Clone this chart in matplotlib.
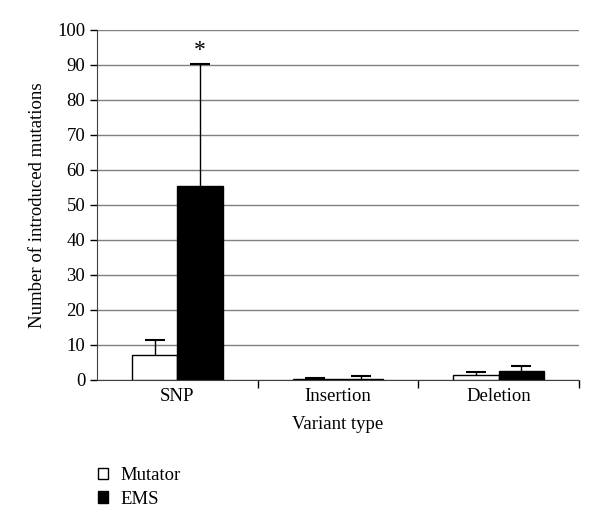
import matplotlib
matplotlib.use("Agg")
import matplotlib.pyplot as plt
import numpy as np
from matplotlib.patches import Rectangle

categories = ["SNP", "Insertion", "Deletion"]
mutator = [7.2, 0.3, 1.4]
mutator_err = [4.2, 0.3, 1.0]
ems = [55.5, 0.4, 2.6]
ems_err = [34.7, 0.6, 1.5]
yticks = list(range(0, 101, 10))

plt.rcParams['font.family'] = ['Liberation Serif', 'DejaVu Serif']

fig = plt.figure(figsize=(6, 5.29), dpi=100)
ax = fig.add_axes([0.1617, 0.2817, 0.8033, 0.6616])

x = np.arange(len(categories))
w = 0.283
ax.bar(x - w/2, mutator, w, color='white', edgecolor='black', linewidth=1.0, zorder=3)
ax.bar(x + w/2, ems, w, color='black', edgecolor='black', linewidth=1.0, zorder=3)
for xs, vals, errs in [(x - w/2, mutator, mutator_err), (x + w/2, ems, ems_err)]:
    _, caps, _ = ax.errorbar(xs, vals, yerr=[np.zeros(3), errs], fmt='none',
                             ecolor='black', elinewidth=1.0, capsize=7, capthick=1.5, zorder=4)
    caps[0].set_visible(False)
ax.text(x[0] + w/2, ems[0] + ems_err[0] + 1.0, "*", ha='center', va='bottom', fontsize=17)

ax.set_xlim(-0.5, 2.5)
ax.set_ylim(0, 100)
ax.set_yticks(yticks)
ax.yaxis.grid(True, color='#808080', linewidth=1.0, zorder=0)
ax.set_axisbelow(True)
ax.set_xticks(x)
ax.set_xticklabels(categories, fontsize=13.5)
ax.set_xticks([0.5, 1.5, 2.5], minor=True)
ax.tick_params(axis='x', which='major', length=0, pad=6)
ax.tick_params(axis='x', which='minor', length=6, width=1.0, direction='out')
ax.tick_params(axis='y', labelsize=13.5, length=5, width=1.0, direction='out')
for s in ['top', 'right']:
    ax.spines[s].set_visible(False)
ax.spines['left'].set_color('#404040')
ax.spines['bottom'].set_color('#404040')
ax.set_xlabel("Variant type", fontsize=13.5, labelpad=8)
ax.set_ylabel("Number of introduced mutations", fontsize=13.5, labelpad=8)

handles = [Rectangle((0, 0), 1, 1, facecolor='white', edgecolor='black', linewidth=1.0),
           Rectangle((0, 0), 1, 1, facecolor='black', edgecolor='black', linewidth=1.0)]
fig.legend(handles, ["Mutator", "EMS"], loc='upper left', bbox_to_anchor=(0.15, 0.131),
           frameon=False, fontsize=13.5, handlelength=0.55, handleheight=0.55,
           handletextpad=0.7, labelspacing=0.35, borderaxespad=0)

fig.savefig("out.png", dpi=100)
